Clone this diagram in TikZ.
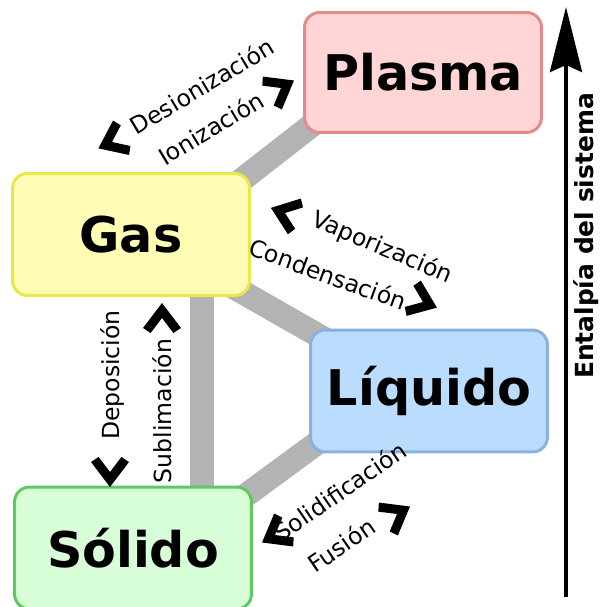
\documentclass[tikz,border=0pt]{standalone}
\usepackage{fontspec}
\setmainfont{DejaVu Sans}
\usepackage{tikz}
\usetikzlibrary{arrows.meta}

\definecolor{plasmafill}{HTML}{FFD5D5}
\definecolor{plasmaline}{HTML}{E58A8A}
\definecolor{gasfill}{HTML}{FFFDB5}
\definecolor{gasline}{HTML}{E8E84A}
\definecolor{liqfill}{HTML}{BADCFF}
\definecolor{liqline}{HTML}{8AB0E0}
\definecolor{solfill}{HTML}{D8FFD8}
\definecolor{solline}{HTML}{5CCB5C}
\definecolor{bargray}{HTML}{B3B3B3}

\tikzset{
    chev/.pic={\fill (15,0) -- (-10,19) -- (-15,11.4) -- (0,0) -- (-15,-11.4) -- (-10,-19) -- cycle;}
}

\begin{document}
\begin{tikzpicture}[x=0.02cm, y=-0.02cm,
        statebox/.style={draw, rectangle, rounded corners=0.3cm, line width=1.7pt,
            minimum width=4.74cm, minimum height=2.4cm, inner sep=0pt,
            font=\fontsize{28}{30}\selectfont\bfseries},
        bar/.style={draw=bargray, line width=0.48cm},
        lbl/.style={inner sep=0pt, font=\fontsize{13.4}{15}\selectfont}]
    \useasboundingbox (0,0) rectangle (600,607);

    % gray bars behind the boxes
    \coordinate (gp-a) at (180,228);
    \coordinate (gp-b) at (380,72);
    \coordinate (gl-a) at (200,268);
    \coordinate (gl-b) at (400,382);
    \coordinate (sl-a) at (200,529);
    \coordinate (gs-a) at (202,250);
    \coordinate (gs-b) at (202,530);
    \draw[bar] (gp-a) -- (gp-b);
    \draw[bar] (gl-a) -- (gl-b);
    \draw[bar] (sl-a) -- (gl-b);
    \draw[bar] (gs-a) -- (gs-b);

    % states
    \node[statebox, fill=plasmafill, draw=plasmaline] (plasma) at (423,72.5) {Plasma};
    \node[statebox, fill=gasfill, draw=gasline, minimum height=2.44cm] (gas) at (131,234.5) {Gas};
    \node[statebox, fill=liqfill, draw=liqline, minimum height=2.44cm] (liquido) at (429,391) {Líquido};
    \node[statebox, fill=solfill, draw=solline, minimum height=2.44cm] (solido) at (133,548) {Sólido};

    % transitions
    \node[lbl, rotate=31] (desion) at (202,86) {Desionización};
    \node[lbl, rotate=31] (ioniz) at (211,128) {Ionización};
    \pic[rotate=205] at (112,142) {chev};
    \pic[rotate=30] at (281,88) {chev};

    \node[lbl, rotate=-23] (vapor) at (382,248) {Vaporización};
    \node[lbl, rotate=-20] (conden) at (328,274) {Condensación};
    \pic[rotate=160] at (285,213) {chev};
    \pic[rotate=-22] at (423,302) {chev};

    \node[lbl, rotate=90] (depos) at (113,375) {Deposición};
    \node[lbl, rotate=90] (sublim) at (162,411) {Sublimación};
    \pic[rotate=-90] at (110,472) {chev};
    \pic[rotate=90] at (162,318) {chev};

    \node[lbl, rotate=34.5] (solidif) at (340,491) {Solidificación};
    \node[lbl, rotate=34.5] (fusion) at (341,545) {Fusión};
    \pic[rotate=210] at (275,535) {chev};
    \pic[rotate=30] at (397,514) {chev};

    % enthalpy axis
    \coordinate (ent-bot) at (566,597);
    \coordinate (ent-top) at (566,7);
    \draw[line width=2.3pt, -{Stealth[length=1.3cm, width=0.64cm, inset=0.14cm]}] (ent-bot) -- (ent-top);
    \node[rotate=90, inner sep=0pt, font=\fontsize{14.2}{16}\selectfont\bfseries] (entalpia) at (586,236) {Entalpía del sistema};
\end{tikzpicture}
\end{document}
